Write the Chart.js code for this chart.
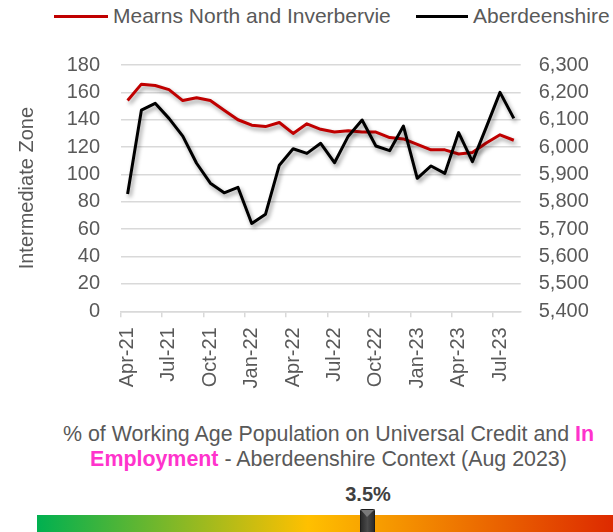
<!DOCTYPE html>
<html>
<head>
<meta charset="utf-8">
<script src="https://cdn.jsdelivr.net/npm/chart.js@4.4.0/dist/chart.umd.min.js"></script>
<style>
  html, body { margin: 0; padding: 0; background: #fff; }
  body { width: 613px; height: 532px; position: relative; overflow: hidden;
         font-family: "Liberation Sans", Arial, sans-serif; color: #595959; }
  #chartBox { position: absolute; left: 0; top: 0; width: 613px; height: 410px; }
  .legend-item { position: absolute; top: 4px; height: 24px; display: flex; align-items: center;
                 font-size: 21px; white-space: nowrap; }
  .legend-line { height: 3px; margin-right: 5px; }
  #context { position: absolute; left: 34px; width: 589px; top: 422px; text-align: center;
             font-size: 21.4px; line-height: 25px; }
  #context b { color: #FF33CC; }
  #value { position: absolute; left: 318px; width: 100px; top: 483px; text-align: center;
           font-weight: bold; font-size: 20px; color: #404040; }
  #bar { position: absolute; left: 37px; top: 515px; width: 576px; height: 17px;
         background: linear-gradient(to right, #00B050 0%, #FFC000 47%, #DD2A00 100%); }
  #marker { position: absolute; left: 360px; top: 509px; width: 13px; height: 23px;
            background: linear-gradient(to right, #2b2b2b, #4a4a4a 50%, #2b2b2b);
            border: 1px solid #1c1c1c; border-bottom: none; border-radius: 2px 2px 0 0; }
  #marker::after { content: ""; position: absolute; left: 0; top: 0; width: 0; height: 0;
            border-left: 6px solid transparent; border-right: 7px solid transparent;
            border-top: 7px solid #7a7a7a; }
</style>
</head>
<body>
<div id="legend"></div>
<div id="chartBox"><canvas id="ucChart"></canvas></div>
<div id="context">% of Working Age Population on Universal Credit and <b>In</b><br><b>Employment</b> - Aberdeenshire Context (Aug 2023)</div>
<div id="value"></div>
<div id="bar"></div>
<div id="marker"></div>
<script>
// Monthly labels, Apr 2021 to Aug 2023
const months = ['Apr-21', 'May-21', 'Jun-21', 'Jul-21', 'Aug-21', 'Sep-21', 'Oct-21', 'Nov-21', 'Dec-21',
  'Jan-22', 'Feb-22', 'Mar-22', 'Apr-22', 'May-22', 'Jun-22', 'Jul-22', 'Aug-22', 'Sep-22', 'Oct-22',
  'Nov-22', 'Dec-22', 'Jan-23', 'Feb-23', 'Mar-23', 'Apr-23', 'May-23', 'Jun-23', 'Jul-23', 'Aug-23'];

// Intermediate zone counts (left axis)
const mearnsValues = [154, 166, 165, 162, 154, 156, 154, 147, 140, 136, 135, 138, 130, 137, 133,
  131, 132, 131, 131, 127, 126, 122, 118, 118, 115, 116, 123, 129, 125];

// Aberdeenshire counts (right axis)
const shireValues = [5829, 6135, 6160, 6105, 6040, 5941, 5868, 5833, 5853, 5721, 5755, 5934, 5994,
  5977, 6014, 5943, 6040, 6099, 6004, 5987, 6077, 5886, 5931, 5904, 6053, 5947, 6072, 6200, 6105];

const seriesNames = ['Mearns North and Inverbervie', 'Aberdeenshire'];
const seriesColors = ['#C00000', '#000000'];

const contextValue = '3.5%';

const textGrey = '#595959';
const gridGrey = '#D9D9D9';
const fontFamily = '"Liberation Sans", Arial, sans-serif';

// Legend drawn as html so its spacing matches the original
const legendLeft = [54, 416];
const legendWidth = [54, 52];
const legend = document.getElementById('legend');
seriesNames.forEach((name, i) => {
    const item = document.createElement('div');
    item.className = 'legend-item';
    item.style.left = legendLeft[i] + 'px';
    item.innerHTML = `<span class="legend-line" style="width:${legendWidth[i]}px;background:${seriesColors[i]}"></span>${name}`;
    legend.appendChild(item);
});

document.getElementById('value').textContent = contextValue;

// Soft drop shadow under the lines, like the spreadsheet original
const lineShadow = {
    id: 'lineShadow',
    beforeDatasetDraw(chart) {
        const ctx = chart.ctx;
        ctx.save();
        ctx.shadowColor = 'rgba(0, 0, 0, 0.4)';
        ctx.shadowBlur = 4;
        ctx.shadowOffsetX = 2;
        ctx.shadowOffsetY = 3;
    },
    afterDatasetDraw(chart) {
        chart.ctx.restore();
    }
};

const ctx = document.getElementById('ucChart').getContext('2d');
new Chart(ctx, {
    type: 'line',
    data: {
        labels: months,
        datasets: [
            {
                label: seriesNames[0],
                data: mearnsValues,
                borderColor: seriesColors[0],
                backgroundColor: seriesColors[0],
                borderWidth: 3,
                pointRadius: 0,
                tension: 0,
                yAxisID: 'y',
                order: 2
            },
            {
                label: seriesNames[1],
                data: shireValues,
                borderColor: seriesColors[1],
                backgroundColor: seriesColors[1],
                borderWidth: 3,
                pointRadius: 0,
                tension: 0,
                yAxisID: 'y1',
                order: 1
            }
        ]
    },
    options: {
        responsive: true,
        maintainAspectRatio: false,
        animation: false,
        borderJoinStyle: 'round',
        layout: { padding: { top: 65, left: 0, right: 0, bottom: 0 } },
        plugins: {
            legend: { display: false },
            tooltip: { enabled: false }
        },
        scales: {
            x: {
                offset: true,
                grid: {
                    offset: true,
                    drawOnChartArea: false,
                    tickLength: 6,
                    lineWidth: 1.5,
                    color: gridGrey,
                    tickColor: c => (c.index % 3 === 0 ? gridGrey : 'rgba(0,0,0,0)')
                },
                border: { display: true, color: gridGrey, width: 1.5 },
                ticks: {
                    autoSkip: false,
                    minRotation: 90,
                    maxRotation: 90,
                    padding: 10,
                    color: textGrey,
                    font: { family: fontFamily, size: 20 },
                    callback: (v, i) => (i % 3 === 0 ? months[i] : '')
                },
                afterFit: scale => { scale.height = 98.7; }
            },
            y: {
                position: 'left',
                min: 0,
                max: 180,
                grid: { color: gridGrey, lineWidth: 1.5, drawTicks: false },
                border: { display: false },
                ticks: {
                    stepSize: 20,
                    padding: 20.7,
                    color: textGrey,
                    font: { family: fontFamily, size: 20 }
                },
                title: {
                    display: true,
                    text: 'Intermediate Zone',
                    color: textGrey,
                    font: { family: fontFamily, size: 20 },
                    padding: { top: 15, bottom: 0 }
                },
                afterFit: scale => { scale.width = 120.7; }
            },
            y1: {
                position: 'right',
                min: 5400,
                max: 6300,
                grid: { display: false, drawTicks: false },
                border: { display: false },
                ticks: {
                    stepSize: 100,
                    padding: 18,
                    color: textGrey,
                    font: { family: fontFamily, size: 20 },
                    callback: v => v.toLocaleString('en-GB')
                },
                afterFit: scale => { scale.width = 92.3; }
            }
        }
    },
    plugins: [lineShadow]
});
</script>
</body>
</html>
